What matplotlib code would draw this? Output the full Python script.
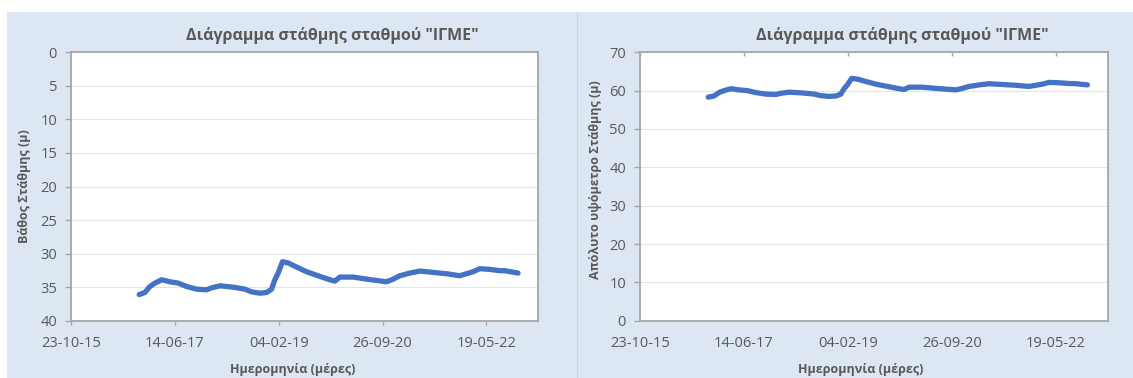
import matplotlib
matplotlib.use("Agg")
import matplotlib.pyplot as plt
import matplotlib.dates as mdates
from matplotlib.patches import Rectangle
from matplotlib.lines import Line2D
import pandas as pd

plt.rcParams['font.family'] = ['Open Sans', 'DejaVu Sans']

# Measurement dates
dates = [
    "2016-11-20", "2016-12-23", "2017-01-21", "2017-02-19", "2017-03-30",
    "2017-05-17", "2017-07-04", "2017-08-21", "2017-10-18", "2017-12-15",
    "2018-01-12", "2018-03-02", "2018-05-17", "2018-07-24", "2018-08-31",
    "2018-10-18", "2018-11-26", "2018-12-25", "2019-01-13", "2019-02-01",
    "2019-02-26", "2019-03-31", "2019-05-18", "2019-07-15", "2019-09-30",
    "2019-11-27", "2019-12-26", "2020-01-23", "2020-04-09", "2020-06-25",
    "2020-08-22", "2020-10-19", "2020-11-27", "2021-01-04", "2021-03-03",
    "2021-04-30", "2021-07-15", "2021-10-01", "2021-12-16", "2022-01-24",
    "2022-03-03", "2022-04-11", "2022-06-08", "2022-08-05", "2022-09-02",
    "2022-11-18",
]

# Depth to water level (m)
depth = [
    36.1, 35.8, 34.9, 34.4, 33.9, 34.2, 34.4, 34.9, 35.3, 35.4,
    35.1, 34.8, 35.0, 35.3, 35.7, 35.9, 35.8, 35.3, 33.9, 32.9,
    31.2, 31.4, 32.0, 32.7, 33.4, 33.9, 34.1, 33.5, 33.5, 33.8,
    34.0, 34.2, 33.8, 33.3, 32.9, 32.6, 32.8, 33.0, 33.3, 33.0,
    32.7, 32.25, 32.35, 32.55, 32.55, 32.9,
]

# Absolute water level elevation (m)
elevation = [
    58.3, 58.6, 59.5, 60.0, 60.5, 60.2, 60.0, 59.5, 59.1, 59.0,
    59.3, 59.6, 59.4, 59.1, 58.7, 58.5, 58.6, 59.1, 60.5, 61.5,
    63.2, 63.0, 62.4, 61.7, 61.0, 60.5, 60.3, 60.9, 60.9, 60.6,
    60.4, 60.2, 60.6, 61.1, 61.5, 61.8, 61.6, 61.4, 61.1, 61.4,
    61.7, 62.15, 62.05, 61.85, 61.85, 61.5,
]

x_ticks = ["2015-10-23", "2017-06-14", "2019-02-04", "2020-09-26", "2022-05-19"]
x_range = ["2015-10-23", "2023-03-15"]

title = 'Διάγραμμα στάθμης σταθμού "ΙΓΜΕ"'
xlabel = "Ημερομηνία (μέρες)"
ylabel_left = "Βάθος Στάθμης (μ)"
ylabel_right = "Απόλυτο υψόμετρο Στάθμης (μ)"

W, H = 1133, 378
fig = plt.figure(figsize=(W / 100, H / 100), dpi=100)
fig.patch.set_facecolor("white")

panel = "#DDE7F3"
text_c = "#595959"
line_c = "#4472C4"

# Chart backgrounds
fig.add_artist(Rectangle((7 / W, 0), (577 - 7) / W, (H - 12) / H,
                         transform=fig.transFigure, facecolor=panel,
                         edgecolor="none", zorder=-10))
fig.add_artist(Rectangle((577 / W, 0), (W - 577) / W, (H - 12) / H,
                         transform=fig.transFigure, facecolor=panel,
                         edgecolor="none", zorder=-10))
fig.add_artist(Line2D([577 / W, 577 / W], [0, (H - 12) / H],
                      transform=fig.transFigure, color="#C8D5E5", lw=0.8))

d = pd.to_datetime(dates)
ticks = pd.to_datetime(x_ticks)
xr = pd.to_datetime(x_range)

def style(ax):
    ax.set_facecolor("white")
    ax.set_xlim(xr[0], xr[1])
    ax.set_xticks(ticks)
    ax.xaxis.set_major_formatter(mdates.DateFormatter("%d-%m-%y"))
    ax.grid(axis="y", color="#E4E4E4", lw=0.8)
    ax.set_axisbelow(True)
    for s in ax.spines.values():
        s.set_color("#A6A6A6")
        s.set_linewidth(1.3)
    ax.tick_params(axis="both", colors="#A6A6A6", labelcolor=text_c,
                   labelsize=10.5, width=1, length=4)
    ax.tick_params(axis="y", pad=6)
    ax.tick_params(axis="x", pad=8)

axL = fig.add_axes([71 / W, 1 - 320.7 / H, 467.3 / W, 268.4 / H])
axL.plot(d, depth, color=line_c, lw=3.8, solid_capstyle="round",
         solid_joinstyle="round")
style(axL)
axL.set_ylim(40, 0)
axL.set_yticks(range(0, 41, 5))
axL.tick_params(axis="x", direction="out", length=3)

axR = fig.add_axes([640 / W, 1 - 320.7 / H, 467.7 / W, 268.4 / H])
axR.plot(d, elevation, color=line_c, lw=3.8, solid_capstyle="round",
         solid_joinstyle="round")
style(axR)
axR.set_ylim(0, 70)
axR.set_yticks(range(0, 71, 10))
axR.tick_params(axis="x", bottom=False, top=True, direction="in", length=3,
                pad=11)

# Titles and axis labels
for cx, ylab, yx, yy in [(332, ylabel_left, 25, 186), (902, ylabel_right, 595, 180)]:
    fig.text(cx / W, 1 - 35 / H, title, ha="center", va="center",
             fontsize=11.5, fontweight="bold", color=text_c)
    fig.text(yx / W, 1 - yy / H, ylab, ha="center", va="center",
             rotation=90, fontsize=9, fontweight="bold", color=text_c)

fig.text(293 / W, 1 - 370 / H, xlabel, ha="center", va="center",
         fontsize=9, fontweight="bold", color=text_c)
fig.text(861 / W, 1 - 370 / H, xlabel, ha="center", va="center",
         fontsize=9, fontweight="bold", color=text_c)

fig.savefig("out.png", dpi=100, facecolor=fig.get_facecolor())
